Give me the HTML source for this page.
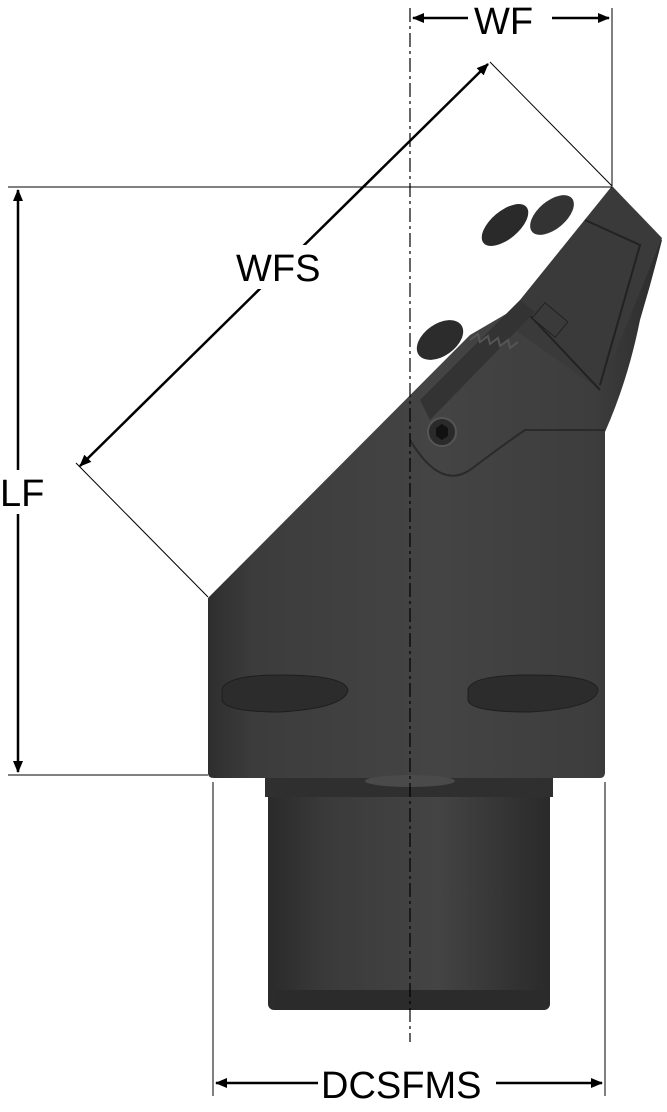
<!DOCTYPE html>
<html><head><meta charset="utf-8"><style>
html,body{margin:0;padding:0;background:#fff;}
svg{display:block;}
text{font-family:"Liberation Sans",sans-serif;font-size:38px;fill:#000;}
</style></head><body>
<svg width="667" height="1112" viewBox="0 0 667 1112" xmlns="http://www.w3.org/2000/svg">
<defs>
<linearGradient id="body" x1="0" x2="1" y1="0" y2="0">
<stop offset="0" stop-color="#2e2e2e"/><stop offset="0.1" stop-color="#3c3c3c"/><stop offset="0.5" stop-color="#444"/><stop offset="0.85" stop-color="#3d3d3d"/><stop offset="1" stop-color="#2c2c2c"/>
</linearGradient>
<linearGradient id="shank" x1="0" x2="1" y1="0" y2="0">
<stop offset="0" stop-color="#2a2a2a"/><stop offset="0.2" stop-color="#3a3a3a"/><stop offset="0.6" stop-color="#444"/><stop offset="1" stop-color="#2a2a2a"/>
</linearGradient>
<marker id="a" markerWidth="12" markerHeight="10" refX="11" refY="5" orient="auto-start-reverse" markerUnits="userSpaceOnUse"><path d="M0,0 L12,5 L0,10 z" fill="#000"/></marker>
</defs>
<!-- shank -->
<rect x="268" y="778" width="282" height="232" rx="6" fill="url(#shank)"/>
<rect x="275" y="990" width="268" height="20" fill="#2b2b2b"/>
<rect x="265" y="775" width="288" height="22" fill="#2f2f2f"/>
<!-- body -->
<path d="M208,598 L208,773 Q208,778 214,778 L600,778 Q605,778 605,772 L605,432 Q628,380 640,320 Q652,280 662,240 L612,186 L530,300 L470,335 Z" fill="url(#body)"/>
<!-- head block -->
<path d="M520,300 L612,186 L662,238 L600,390 L515,330 Z" fill="#3a3a3a"/>
<path d="M585,220 L640,245 L600,385" fill="none" stroke="#222" stroke-width="2"/>
<path d="M520,305 L600,390" stroke="#222" stroke-width="2"/>
<!-- teeth -->
<path d="M420,400 L520,300 L535,312 L430,420 Z" fill="#333"/>
<path d="M470,340 l8,-6 l2,8 l8,-6 l2,8 l8,-6 l2,8 l8,-6 l2,8 l8,-6" fill="none" stroke="#555" stroke-width="2"/>
<!-- screws -->
<ellipse cx="505" cy="225" rx="28" ry="14" fill="#2a2a2a" transform="rotate(-40 505 225)"/>
<ellipse cx="552" cy="215" rx="26" ry="14" fill="#333" transform="rotate(-40 552 215)"/>
<ellipse cx="440" cy="340" rx="26" ry="16" fill="#2c2c2c" transform="rotate(-35 440 340)"/>
<rect x="535" y="310" width="30" height="20" fill="#3a3a3a" stroke="#222" transform="rotate(40 550 320)"/>
<!-- lower curve detail -->
<path d="M410,440 Q440,490 470,470 Q510,440 525,430 L605,430" fill="none" stroke="#2a2a2a" stroke-width="2"/>
<circle cx="442" cy="432" r="14" fill="#2a2a2a" stroke="#555" stroke-width="2"/>
<polygon points="436,428 442,424 448,428 448,436 442,440 436,436" fill="#111"/>
<!-- slots -->
<path d="M222,690 Q225,675 280,675 Q345,675 348,690 Q345,708 280,712 Q225,712 222,700 Z" fill="#2c2c2c" stroke="#1e1e1e"/>
<path d="M468,690 Q470,675 530,675 Q596,675 598,690 Q596,708 530,712 Q470,712 468,700 Z" fill="#2c2c2c" stroke="#1e1e1e"/>
<ellipse cx="410" cy="781" rx="45" ry="6" fill="#4a4a4a"/>
<!-- centerline -->
<line x1="410" y1="8" x2="410" y2="1042" stroke="#000" stroke-width="1.2" stroke-dasharray="14,4,3,4"/>
<!-- extension lines -->
<line x1="8" y1="187" x2="612" y2="187" stroke="#000" stroke-width="1"/>
<line x1="8" y1="775" x2="208" y2="775" stroke="#000" stroke-width="1"/>
<line x1="612" y1="8" x2="612" y2="186" stroke="#000" stroke-width="1"/>
<line x1="490" y1="62" x2="612" y2="186" stroke="#000" stroke-width="1"/>
<line x1="76" y1="463" x2="208" y2="597" stroke="#000" stroke-width="1"/>
<line x1="213" y1="782" x2="213" y2="1096" stroke="#000" stroke-width="1"/>
<line x1="605" y1="782" x2="605" y2="1096" stroke="#000" stroke-width="1"/>
<!-- dimension lines -->
<line x1="18" y1="190" x2="18" y2="772" stroke="#000" stroke-width="2.5" marker-start="url(#a)" marker-end="url(#a)"/>
<rect x="0" y="470" width="46" height="44" fill="#fff"/>
<text x="0" y="506">LF</text>
<line x1="413" y1="18" x2="609" y2="18" stroke="#000" stroke-width="2.5" marker-start="url(#a)" marker-end="url(#a)"/>
<rect x="468" y="0" width="84" height="40" fill="#fff"/>
<text x="474" y="34">WF</text>
<line x1="80" y1="466" x2="488" y2="64" stroke="#000" stroke-width="2.5" marker-start="url(#a)" marker-end="url(#a)"/>
<rect x="232" y="245" width="100" height="44" fill="#fff"/>
<text x="236" y="281">WFS</text>
<line x1="216" y1="1083" x2="602" y2="1083" stroke="#000" stroke-width="2.5" marker-start="url(#a)" marker-end="url(#a)"/>
<rect x="318" y="1064" width="178" height="40" fill="#fff"/>
<text x="321" y="1098">DCSFMS</text>
</svg>
</body></html>
